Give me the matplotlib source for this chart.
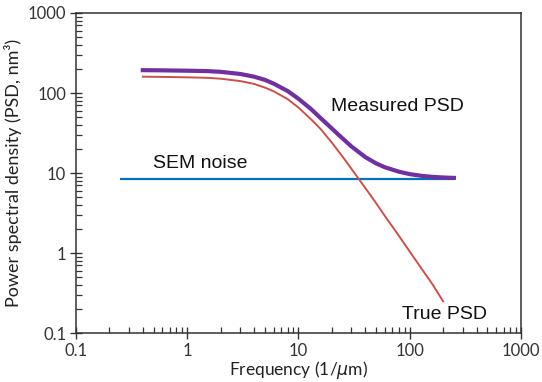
import matplotlib
matplotlib.use("Agg")
import matplotlib.pyplot as plt
from matplotlib.ticker import FixedLocator, LogLocator, NullFormatter

# Data
freq_true = [0.4, 0.6, 1, 1.5, 2, 3, 4, 5, 6, 8, 10, 13, 16, 20, 25, 30, 40, 50, 60, 80, 100, 130, 160, 200]
psd_true = [160, 159, 157, 155, 151, 141, 130, 117, 105, 84, 66, 47, 35, 24, 16, 11.3, 6.5, 4.2, 2.9, 1.65, 1.05, 0.62, 0.41, 0.25]

freq_meas = [0.4, 0.6, 1, 1.5, 2, 3, 4, 5, 6, 8, 10, 13, 16, 20, 25, 30, 40, 50, 60, 80, 100, 130, 160, 200, 250]
psd_meas = [193, 192, 190, 188, 184, 173, 160, 146, 131, 106, 85, 63, 48, 36, 27, 21.5, 15.8, 13.2, 11.8, 10.4, 9.7, 9.2, 8.96, 8.8, 8.7]

freq_noise = [0.25, 250]
psd_noise = [8.5, 8.5]

tick_vals = [0.1, 1, 10, 100, 1000]
tick_labels = ["0.1", "1", "10", "100", "1000"]

fig = plt.figure(figsize=(5.42, 3.82), dpi=100)
ax = fig.add_axes([0.140, 0.128, 0.821, 0.838])

ax.plot(freq_noise, psd_noise, color="#0070C0", lw=1.6, solid_capstyle="butt", zorder=2)
ax.plot(freq_true, psd_true, color="#C8504D", lw=1.4, zorder=3)
ax.plot(freq_meas, psd_meas, color="#7030A0", lw=3.0, zorder=4)

ax.set_xscale("log")
ax.set_yscale("log")
ax.set_xlim(0.1, 1000)
ax.set_ylim(0.1, 1000)

tick_font = dict(family=["Lato", "DejaVu Sans"], size=12, color="#333333")
ax.xaxis.set_major_locator(FixedLocator(tick_vals))
ax.yaxis.set_major_locator(FixedLocator(tick_vals))
ax.set_xticklabels(tick_labels, **tick_font)
ax.set_yticklabels(tick_labels, **tick_font)
ax.xaxis.set_minor_locator(LogLocator(base=10, subs=range(2, 10)))
ax.yaxis.set_minor_locator(LogLocator(base=10, subs=range(2, 10)))
ax.xaxis.set_minor_formatter(NullFormatter())
ax.yaxis.set_minor_formatter(NullFormatter())

ax.tick_params(which="major", direction="inout", length=8, width=1.0, color="#333333", pad=3)
ax.tick_params(which="minor", direction="in", length=4, width=0.9, color="#333333")
ax.tick_params(axis="x", which="both", top=False)
ax.tick_params(axis="y", which="both", right=False)

for s in ax.spines.values():
    s.set_color("#333333")
    s.set_linewidth(1.1)

ax.set_xlabel("Frequency (1/$\\mu$m)", family=["Lato", "DejaVu Sans"], size=12.5, color="#222222", labelpad=0)
ax.set_ylabel("Power spectral density (PSD, nm³)", family=["Lato", "DejaVu Sans"], size=13, color="#222222", labelpad=4)

ann_font = dict(family=["Liberation Sans", "DejaVu Sans"], size=14, color="#111111", va="center", ha="left")
ax.text(19.6, 68.8, "Measured PSD", **ann_font)
ax.text(0.49, 13.2, "SEM noise", **ann_font)
ax.text(86, 0.17, "True PSD", **ann_font)

fig.savefig("out.png", dpi=100)
